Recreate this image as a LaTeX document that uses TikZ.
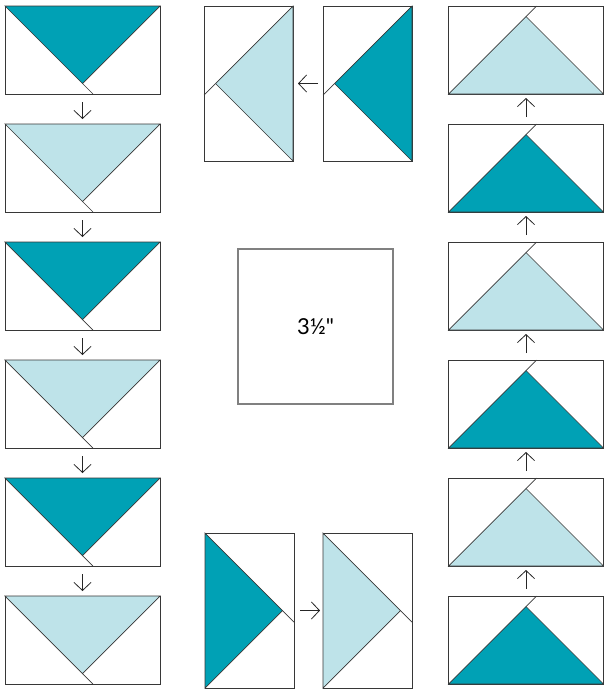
\documentclass[tikz,border=0pt]{standalone}
\usepackage{fontspec}
\setmainfont{Lato}
\newfontfamily\sizefont{Lato}
\usepackage{tikz}
\usetikzlibrary{arrows.meta,calc}
\definecolor{quiltteal}{RGB}{0,161,181}
\definecolor{quiltaqua}{RGB}{190,227,233}
\definecolor{seamgray}{RGB}{55,55,55}

\begin{document}
\begin{tikzpicture}[x=1pt, y=-1pt,
    block/.style={draw=seamgray, line width=0.9pt, minimum width=155pt,
      minimum height=88pt, inner sep=0pt, outer sep=0pt},
    tall/.style={block, minimum width=89pt, minimum height=155pt},
    seam/.style={draw=seamgray, line width=0.7pt},
    flow/.style={-{Straight Barb[length=8pt,width=17pt]}, line width=0.8pt, black!85}]
  \useasboundingbox (0,0) rectangle (604,689);
  % Left column: geese pointing down
  \foreach \i/\col in {1/quiltteal,2/quiltaqua,3/quiltteal,4/quiltaqua,5/quiltteal,6/quiltaqua}{
    \node[block] (L\i) at (82.5,{50+118*(\i-1)}) {};
    \filldraw[seam, fill=\col] (L\i.north west) -- (L\i.north east)
      -- ($(L\i.north)+(0,77.5)$) -- cycle;
    \draw[seam] ($(L\i.north)+(0,77.5)$) -- ($(L\i.north west)+(88,88)$);
  }
  % Right column: geese pointing up
  \foreach \i/\col in {1/quiltaqua,2/quiltteal,3/quiltaqua,4/quiltteal,5/quiltaqua,6/quiltteal}{
    \node[block] (R\i) at (526,{50+118*(\i-1)}) {};
    \filldraw[seam, fill=\col] (R\i.south west) -- (R\i.south east)
      -- ($(R\i.south)+(0,-77.5)$) -- cycle;
    \draw[seam] ($(R\i.south)+(0,-77.5)$) -- ($(R\i.south west)+(88,-88)$);
  }
  % Top pair: geese pointing left
  \node[tall] (T1) at (248.5,83.5) {};
  \node[tall] (T2) at (367.5,83.5) {};
  \foreach \n/\col in {T1/quiltaqua,T2/quiltteal}{
    \filldraw[seam, fill=\col] (\n.north east) -- (\n.south east)
      -- ($(\n.east)+(-77.5,0)$) -- cycle;
    \draw[seam] ($(\n.east)+(-77.5,0)$) -- ($(\n.north east)+(-89,89)$);
  }
  % Bottom pair: geese pointing right
  \node[tall] (B1) at (249.5,610.5) {};
  \node[tall] (B2) at (367.5,610.5) {};
  \foreach \n/\col in {B1/quiltteal,B2/quiltaqua}{
    \filldraw[seam, fill=\col] (\n.north west) -- (\n.south west)
      -- ($(\n.west)+(77.5,0)$) -- cycle;
    \draw[seam] ($(\n.west)+(77.5,0)$) -- ($(\n.north west)+(89,89)$);
  }
  % Centre square
  \node[draw=black!50, line width=1.4pt, minimum size=155pt, inner sep=0pt]
    (centre) at (315.5,326.5) {\sizefont\fontsize{22}{22}\selectfont 3½"};
  % Arrows
  \foreach \i/\j in {1/2,2/3,3/4,4/5,5/6}{
    \draw[flow, shorten <=8pt, shorten >=5pt] (L\i.south) -- (L\j.north);
    \draw[flow, shorten <=7pt, shorten >=4pt] (R\j.north) -- (R\i.south);
  }
  \draw[flow, shorten <=5pt, shorten >=5pt] (T2.west) -- (T1.east);
  \draw[flow, shorten <=6pt, shorten >=3pt] (B1.east) -- (B2.west);
\end{tikzpicture}
\end{document}
